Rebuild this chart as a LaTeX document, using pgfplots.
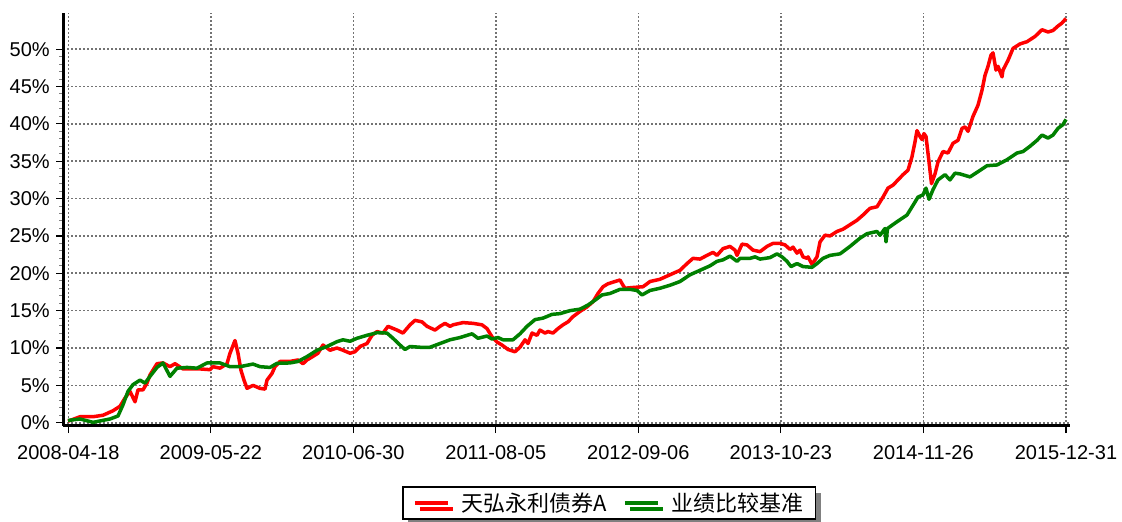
\documentclass[border=0pt]{standalone}
\usepackage{pgfplots}
\pgfplotsset{compat=1.18}
\usepackage{fontspec}
\setmainfont{Liberation Sans}
\newfontfamily\cjk{Noto Sans CJK SC}
\usetikzlibrary{shadows}
\definecolor{fundred}{RGB}{255,0,0}
\definecolor{benchgreen}{RGB}{0,128,0}
\begin{document}
\begin{tikzpicture}[x=1pt,y=1pt]
\useasboundingbox (0,0) rectangle (1122,522);
\begin{axis}[
  at={(63.3pt,96pt)}, anchor=south west,
  scale only axis, width=1006.7pt, height=412.7pt,
  xmin=63.3, xmax=1070, ymin=-0.44, ymax=54.8,
  axis x line*=bottom, axis y line*=left,
  axis line style={-, line width=3pt, black},
  every outer x axis line/.append style={-},
  every outer y axis line/.append style={-},
  xtick={68.3,210.8,353.3,495.8,638.3,780.8,923.3,1066},
  xticklabels={2008-04-18,2009-05-22,2010-06-30,2011-08-05,2012-09-06,2013-10-23,2014-11-26,2015-12-31},
  ytick={0,5,10,15,20,25,30,35,40,45,50},
  yticklabels={0\%,5\%,10\%,15\%,20\%,25\%,30\%,35\%,40\%,45\%,50\%},
  minor x tick num=3, minor y tick num=4,
  tick align=outside,
  major tick length=7pt, minor tick length=4pt,
  major tick style={black, line width=1.2pt},
  minor tick style={gray, line width=1pt},
  grid=major,
  grid style={gray!90!black, line width=1.6pt, dash pattern=on 1.6pt off 2.4pt},
  ticklabel style={font=\fontsize{20}{24}\selectfont},
  xticklabel style={yshift=-9pt},
  yticklabel style={xshift=-3pt},
  legend style={at={(0.5425,-0.1454)}, anchor=north, draw=black, line width=1.5pt,
    font=\cjk\fontsize{22}{26}\selectfont, inner xsep=10pt, inner ysep=4pt,
    drop shadow={shadow xshift=5pt, shadow yshift=-6pt, fill=gray, opacity=1},
    /tikz/every odd column/.append style={column sep=10pt},
    /tikz/every even column/.append style={column sep=14pt}},
  legend columns=2,
  legend image code/.code={\draw[#1, line width=3.5pt] (0pt,0pt) -- (33pt,0pt);},
]
\addplot[fundred, line width=3.5pt, line join=round] coordinates {
(68,0.2) (80,0.8) (93,0.8) (103,1.0) (113,1.6) (120,2.2) (125,3.3) (130,4.2) (135,2.8) (138,4.4)
(143,4.4) (147,5.3) (150,6.4) (157,7.9) (163,8.0) (170,7.5) (175,7.9) (183,7.2) (200,7.2) (210,7.1)
(213,7.5) (220,7.3) (227,7.9) (230,9.3) (235,11.0) (238,9.3) (241,7.0) (244,5.7) (247,4.6) (253,5.0)
(260,4.6) (265,4.5) (267,5.7) (272,6.6) (275,7.5) (280,8.2) (290,8.2) (298,8.4) (303,7.9) (307,8.4)
(312,8.8) (318,9.3) (323,10.4) (330,9.7) (337,10.0) (343,9.7) (350,9.3) (355,9.5) (360,10.2) (367,10.6)
(372,11.7) (377,12.2) (383,12.0) (388,12.9) (397,12.4) (403,12.0) (410,13.1) (415,13.7) (422,13.5) (427,12.9)
(435,12.4) (440,12.9) (445,13.3) (450,12.9) (453,13.1) (463,13.4) (473,13.3) (482,13.1) (487,12.6) (492,11.5)
(497,10.8) (502,10.4) (508,9.8) (515,9.5) (520,10.1) (525,11.1) (528,10.6) (532,12.0) (537,11.7) (540,12.4)
(545,12.0) (548,12.2) (553,12.0) (558,12.6) (563,13.1) (568,13.5) (573,14.2) (580,14.9) (587,15.5) (593,16.2)
(598,17.3) (603,18.2) (608,18.6) (615,18.9) (620,19.1) (623,18.4) (625,18.0) (633,18.1) (643,18.2) (650,18.9)
(660,19.2) (670,19.8) (680,20.4) (687,21.3) (693,22.0) (700,21.9) (707,22.4) (713,22.8) (717,22.4) (723,23.3)
(730,23.6) (735,23.1) (737,22.4) (742,23.9) (747,23.8) (753,23.1) (760,22.9) (767,23.6) (773,24.0) (780,24.0)
(785,23.8) (790,23.2) (793,23.5) (797,22.7) (800,23.1) (803,22.2) (807,22.0) (808,22.2) (812,21.2) (817,22.2)
(820,24.2) (825,25.1) (830,25.0) (837,25.6) (843,25.9) (850,26.5) (857,27.1) (863,27.8) (870,28.7) (877,28.9)
(883,30.2) (888,31.4) (893,31.8) (898,32.5) (903,33.2) (908,33.8) (912,35.6) (915,37.6) (917,39.1) (920,38.3)
(922,37.9) (924,38.7) (926,38.3) (928.5,35.5) (931.5,32.0) (935,33.3) (938,34.9) (943,36.3) (948,36.1) (953,37.4)
(958,37.8) (962,39.4) (965,39.6) (968,39.0) (973,41.0) (978,42.5) (982,44.5) (985,46.5) (988,47.7) (991,49.2)
(993,49.5) (996,47.2) (998,47.7) (1002,46.3) (1003,47.2) (1008,48.5) (1013,50.1) (1020,50.7) (1027,51.0) (1035,51.7)
(1042,52.6) (1048,52.3) (1053,52.5) (1058,53.1) (1062,53.5) (1066,54.1)
};
\addlegendentry{天弘永利债券A}
\addplot[benchgreen, line width=3.5pt, line join=round] coordinates {
(68,0.3) (80,0.5) (93,0.05) (110,0.5) (118,0.9) (123,2.4) (128,4.2) (133,5.1) (140,5.7) (145,5.3)
(150,6.2) (157,7.4) (163,8.0) (170,6.2) (177,7.3) (187,7.4) (197,7.3) (207,8.0) (220,8.0) (230,7.5)
(240,7.5) (253,7.85) (260,7.5) (270,7.4) (277,7.95) (290,8.0) (298,8.2) (307,8.85) (317,9.7) (327,10.2)
(337,10.85) (343,11.1) (350,10.9) (357,11.3) (367,11.7) (377,12.05) (387,12.0) (393,11.3) (400,10.4) (405,9.8)
(410,10.2) (420,10.1) (430,10.1) (440,10.6) (450,11.1) (460,11.4) (472,11.9) (478,11.3) (487,11.6) (492,11.2)
(498,11.4) (503,11.1) (513,11.1) (520,11.9) (527,12.9) (535,13.8) (543,14.0) (552,14.5) (560,14.6) (570,15.0)
(580,15.2) (588,15.75) (595,16.4) (602,17.1) (610,17.3) (620,17.85) (630,17.85) (637,17.7) (642,17.1) (650,17.7)
(660,18.0) (670,18.4) (680,18.9) (690,19.8) (700,20.4) (710,21.0) (717,21.6) (723,21.8) (730,22.3) (737,21.6)
(740,22.0) (750,22.0) (755,22.2) (760,21.9) (770,22.1) (777,22.6) (782,22.2) (787,21.6) (791,20.9) (797,21.3)
(803,20.9) (812,20.8) (817,21.3) (823,22.0) (830,22.4) (840,22.6) (850,23.6) (860,24.7) (867,25.3) (877,25.6)
(880,25.1) (885,26.0) (886,24.2) (887.5,26.0) (897,26.9) (907,27.8) (913,29.1) (918,30.2) (923,30.5) (926,31.4)
(929,29.9) (933,31.2) (938,32.5) (945,33.2) (950,32.5) (955,33.4) (960,33.3) (970,32.9) (978,33.6) (987,34.4)
(997,34.5) (1007,35.2) (1017,36.1) (1023,36.3) (1030,37.0) (1037,37.8) (1042,38.5) (1048,38.1) (1053,38.5) (1058,39.4)
(1063,39.9) (1066,40.6)
};
\addlegendentry{业绩比较基准\hspace{24pt}}
\end{axis}
\end{tikzpicture}
\end{document}
